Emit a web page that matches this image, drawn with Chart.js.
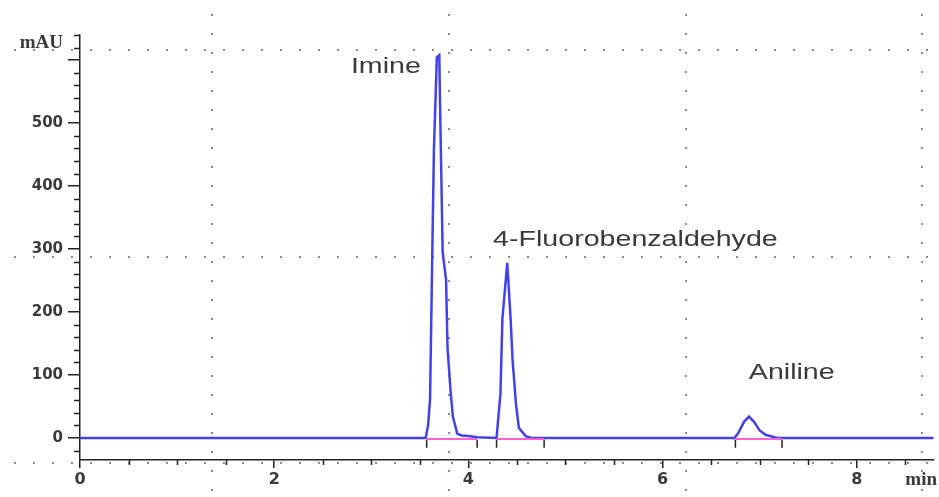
<!DOCTYPE html>
<html>
<head>
<meta charset="utf-8">
<script src="https://cdn.jsdelivr.net/npm/chart.js@4.4.1/dist/chart.umd.min.js"></script>
<style>
  html, body { margin: 0; padding: 0; background: #fff; }
  #wrap { width: 939px; height: 497px; }
</style>
</head>
<body>
<div id="wrap"><canvas id="chromatogram"></canvas></div>
<script>
// retention time (min) and detector signal (mAU)
const trace_times = [0, 3.56, 3.585, 3.605, 3.625, 3.645, 3.675, 3.70, 3.715, 3.735, 3.77, 3.785, 3.815, 3.84, 3.885, 3.93, 4.00, 4.09,
  4.29, 4.33, 4.35, 4.40, 4.435, 4.455, 4.49, 4.52, 4.59, 4.65,
  6.74, 6.78, 6.84, 6.89, 6.94, 7.00, 7.06, 7.18, 8.85];
const trace_values = [0, 0, 20, 61, 262, 458, 605, 608, 469, 295, 251, 143, 77, 34, 7, 4, 3, 1,
  0, 70, 189, 278, 189, 124, 54, 16, 3, 0,
  0, 8, 26, 34, 26, 12, 5, 0, 0];

// integration baselines (start, end) and integration event marks
const baseline_starts = [3.57, 4.29, 6.75];
const baseline_ends = [4.09, 4.78, 7.23];
const event_times = [3.57, 4.09, 4.29, 4.78, 6.75, 7.23];

// peak names
const peak_names = ['Imine', '4-Fluorobenzaldehyde', 'Aniline'];

// axis ticks
const y_major_ticks = [0, 100, 200, 300, 400, 500, 600];
const y_tick_labels = ['0', '100', '200', '300', '400', '500', ''];
const x_major_ticks = [0, 2, 4, 6, 8];
const x_tick_labels = ['0', '2', '4', '6', '8'];

// dotted instrument grid (not aligned with the ticks)
const grid_times = [1.36, 3.80, 6.24, 8.67];
const grid_levels = [616, 287, -40];

const trace_color = 'rgb(66, 66, 232)';
const baseline_color = 'rgb(255, 96, 210)';
const text_color = '#3a3a3a';

// where each peak name is centred, in data units
const peak_label_anchor = [
  { x: 3.15, y: 589 },
  { x: 5.72, y: 314 },
  { x: 7.33, y: 104 }
];

const dotted_grid = {
  id: 'dotted_grid',
  beforeDatasetsDraw: (chart) => {
    const { ctx, width, height } = chart;
    const xs = chart.scales.x;
    const ys = chart.scales.y;
    ctx.save();
    ctx.strokeStyle = '#8a8a8a';
    ctx.lineWidth = 2;
    ctx.setLineDash([2, 17]);
    grid_times.forEach((t) => {
      const px = Math.round(xs.getPixelForValue(t));
      ctx.beginPath();
      ctx.moveTo(px, 14);
      ctx.lineTo(px, height);
      ctx.stroke();
    });
    grid_levels.forEach((v) => {
      const py = Math.round(ys.getPixelForValue(v));
      ctx.beginPath();
      ctx.moveTo(14, py);
      ctx.lineTo(width, py);
      ctx.stroke();
    });
    ctx.restore();
  }
};

const chem_text = {
  id: 'chem_text',
  afterDraw: (chart) => {
    const { ctx } = chart;
    const xs = chart.scales.x;
    const ys = chart.scales.y;
    ctx.save();

    // minor ticks
    ctx.strokeStyle = '#222';
    ctx.lineWidth = 1.5;
    for (let v = -20; v <= 640; v += 20) {
      if (v % 100 === 0) continue;
      const py = Math.round(ys.getPixelForValue(v)) + 0.5;
      ctx.beginPath();
      ctx.moveTo(xs.left - 6, py);
      ctx.lineTo(xs.left, py);
      ctx.stroke();
    }
    for (let t = 0.5; t <= 8.75; t += 0.5) {
      if (t % 2 === 0) continue;
      const px = Math.round(xs.getPixelForValue(t)) + 0.5;
      ctx.beginPath();
      ctx.moveTo(px, ys.bottom);
      ctx.lineTo(px, ys.bottom + 5);
      ctx.stroke();
    }

    // unit labels
    ctx.fillStyle = text_color;
    ctx.font = 'bold 19px "Liberation Serif"';
    ctx.textAlign = 'right';
    ctx.textBaseline = 'middle';
    ctx.fillText('mAU', xs.left - 17, ys.getPixelForValue(627));
    ctx.textAlign = 'left';
    ctx.fillText('min', xs.getPixelForValue(8.5), ys.bottom + 20);

    // peak names, stretched like the exported picture
    ctx.font = '22px "Liberation Sans"';
    ctx.textAlign = 'center';
    peak_names.forEach((name, i) => {
      const a = peak_label_anchor[i];
      ctx.save();
      ctx.translate(xs.getPixelForValue(a.x), ys.getPixelForValue(a.y));
      ctx.scale(1.3, 1);
      ctx.fillText(name, 0, 0);
      ctx.restore();
    });
    ctx.restore();
  }
};

const trace_points = trace_times.map((t, i) => ({ x: t, y: trace_values[i] }));

const baseline_sets = baseline_starts.map((s, i) => ({
  data: [{ x: s, y: -1.5 }, { x: baseline_ends[i], y: -1.5 }],
  borderColor: baseline_color,
  borderWidth: 2,
  pointRadius: 0,
  order: 1
}));

const ctx = document.getElementById('chromatogram').getContext('2d');
const chromatogram_chart = new Chart(ctx, {
  type: 'line',
  data: {
    datasets: [
      {
        data: trace_points,
        borderColor: trace_color,
        borderWidth: 2.5,
        pointRadius: 0,
        tension: 0,
        order: 2
      },
      ...baseline_sets,
      {
        type: 'scatter',
        data: event_times.map((t) => ({ x: t, y: -9 })),
        pointStyle: 'line',
        rotation: 90,
        radius: 4,
        borderColor: '#222',
        borderWidth: 1.5,
        order: 0
      }
    ]
  },
  options: {
    responsive: true,
    maintainAspectRatio: false,
    devicePixelRatio: 1,
    animation: false,
    layout: { padding: { top: 35, right: 0, bottom: 0, left: 0 } },
    plugins: {
      legend: { display: false },
      tooltip: { enabled: false }
    },
    scales: {
      x: {
        type: 'linear',
        min: 0,
        max: 8.79,
        afterFit: (scale) => { scale.height = 37; },
        afterBuildTicks: (scale) => { scale.ticks = x_major_ticks.map((v) => ({ value: v })); },
        border: { display: true, color: '#222', width: 1.5 },
        grid: { drawOnChartArea: false, tickLength: 8, color: '#222', lineWidth: 1.5 },
        ticks: {
          autoSkip: false,
          maxRotation: 0,
          padding: 2,
          color: text_color,
          font: { family: 'DejaVu Sans', weight: 'bold', size: 16 },
          callback: (v) => x_tick_labels[x_major_ticks.indexOf(v)]
        }
      },
      y: {
        type: 'linear',
        min: -35,
        max: 640,
        afterFit: (scale) => { scale.width = 80; },
        afterBuildTicks: (scale) => { scale.ticks = y_major_ticks.map((v) => ({ value: v })); },
        border: { display: true, color: '#222', width: 1.5 },
        grid: { drawOnChartArea: false, tickLength: 12, color: '#222', lineWidth: 1.5 },
        ticks: {
          autoSkip: false,
          padding: 5,
          color: text_color,
          font: { family: 'DejaVu Sans', weight: 'bold', size: 15 },
          callback: (v) => y_tick_labels[y_major_ticks.indexOf(v)]
        }
      }
    }
  },
  plugins: [dotted_grid, chem_text]
});
</script>
</body>
</html>
